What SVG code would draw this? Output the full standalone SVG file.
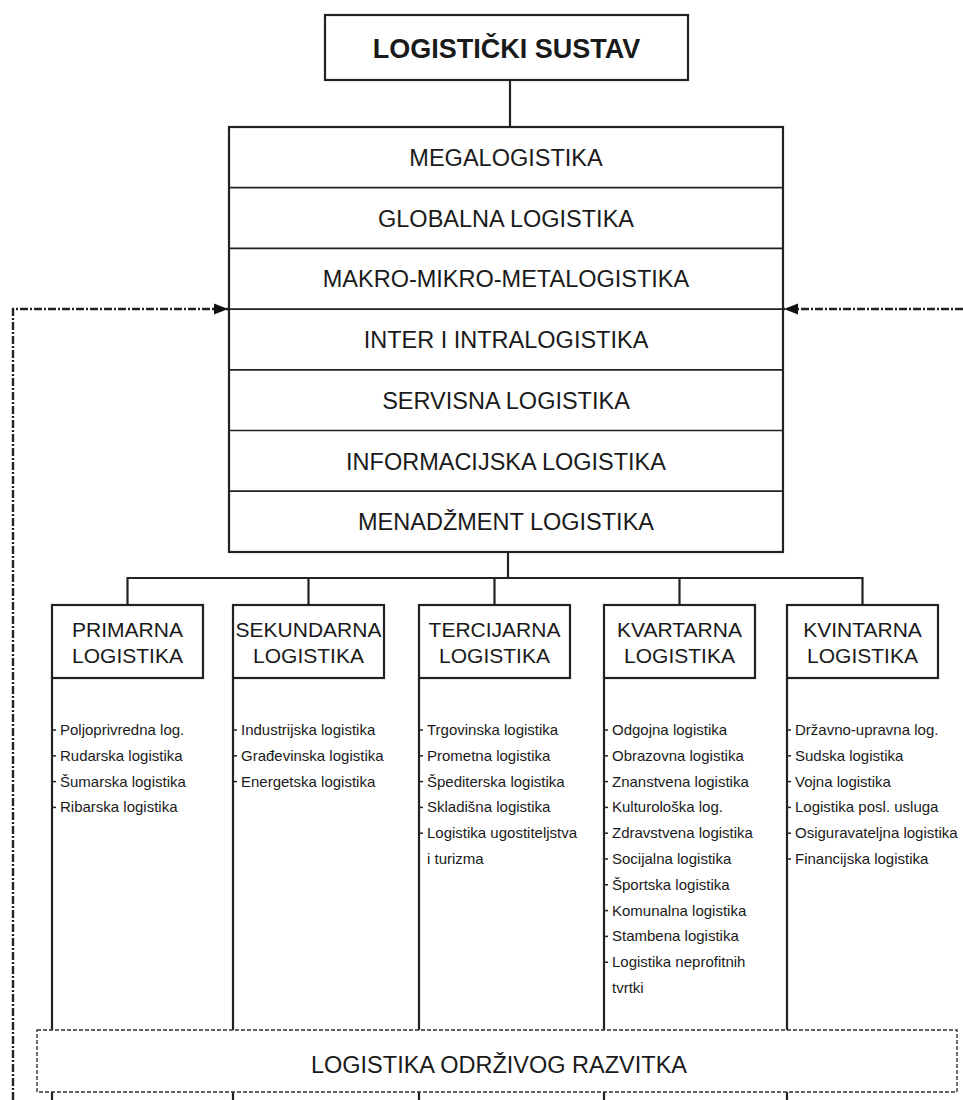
<svg xmlns="http://www.w3.org/2000/svg" width="963" height="1100" viewBox="0 0 963 1100">
<defs>
<marker id="arr" viewBox="0 0 14 12" refX="14" refY="6" markerWidth="14" markerHeight="12" markerUnits="userSpaceOnUse" orient="auto">
<path d="M0,0.5 L14,6 L0,11.5 z" fill="#111"/>
</marker>
<style>
.box{fill:#fff;stroke:#222;stroke-width:2.2}
.sep{stroke:#222;stroke-width:1.7}
.ln{stroke:#222;stroke-width:2.2;fill:none}
.tick{stroke:#222;stroke-width:1.5}
.fb{stroke:#222;stroke-width:2.4;fill:none;stroke-dasharray:8 2 2 2}
.dbox{fill:#fff;stroke:#333;stroke-width:1.4;stroke-dasharray:4 2}
.t{font-family:"Liberation Sans",Arial,sans-serif;fill:#1a1a1a}
.title{font-size:27px;font-weight:bold;text-anchor:middle}
.row{font-size:23.5px;text-anchor:middle}
.cat{font-size:21px;text-anchor:middle}
.it{font-size:15px}
</style>
</defs>

<g id="connectors">
<line class="ln" x1="510" y1="80" x2="510" y2="127"/>
<line class="ln" x1="508" y1="552" x2="508" y2="578"/>
<line class="ln" x1="127.5" y1="578" x2="862.5" y2="578"/>
<line class="ln" x1="127.5" y1="577" x2="127.5" y2="605"/>
<line class="ln" x1="308.5" y1="577" x2="308.5" y2="605"/>
<line class="ln" x1="494.5" y1="577" x2="494.5" y2="605"/>
<line class="ln" x1="679.5" y1="577" x2="679.5" y2="605"/>
<line class="ln" x1="862.5" y1="577" x2="862.5" y2="605"/>
<line class="ln" x1="52" y1="678" x2="52" y2="1100"/>
<line class="ln" x1="233" y1="678" x2="233" y2="1100"/>
<line class="ln" x1="419" y1="678" x2="419" y2="1100"/>
<line class="ln" x1="604" y1="678" x2="604" y2="1100"/>
<line class="ln" x1="787" y1="678" x2="787" y2="1100"/>
<polyline class="fb" points="13,1100 13,309 228,309" marker-end="url(#arr)"/>
<line class="fb" x1="963" y1="309" x2="784" y2="309" marker-end="url(#arr)"/>
</g>

<g id="logisticki-sustav">
<rect class="box" x="325" y="15" width="363" height="65"/>
<text class="t title" x="506.5" y="58">LOGISTIČKI SUSTAV</text>
</g>

<g id="razine">
<rect class="box" x="229" y="127" width="554" height="425"/>
<line class="sep" x1="229" y1="187.7" x2="783" y2="187.7"/>
<line class="sep" x1="229" y1="248.4" x2="783" y2="248.4"/>
<line class="sep" x1="229" y1="309.1" x2="783" y2="309.1"/>
<line class="sep" x1="229" y1="369.8" x2="783" y2="369.8"/>
<line class="sep" x1="229" y1="430.5" x2="783" y2="430.5"/>
<line class="sep" x1="229" y1="491.2" x2="783" y2="491.2"/>
<text class="t row" x="506" y="166">MEGALOGISTIKA</text>
<text class="t row" x="506" y="227">GLOBALNA LOGISTIKA</text>
<text class="t row" x="506" y="287">MAKRO-MIKRO-METALOGISTIKA</text>
<text class="t row" x="506" y="348">INTER I INTRALOGISTIKA</text>
<text class="t row" x="506" y="409">SERVISNA LOGISTIKA</text>
<text class="t row" x="506" y="470">INFORMACIJSKA LOGISTIKA</text>
<text class="t row" x="506" y="530">MENADŽMENT LOGISTIKA</text>
</g>

<g id="primarna">
<rect class="box" x="52" y="605" width="151" height="73"/>
<text class="t cat" x="127.5" y="637">PRIMARNA</text>
<text class="t cat" x="127.5" y="663">LOGISTIKA</text>
<g class="tick">
<line x1="52" y1="730" x2="56" y2="730"/><line x1="52" y1="755.8" x2="56" y2="755.8"/><line x1="52" y1="781.6" x2="56" y2="781.6"/><line x1="52" y1="807.4" x2="56" y2="807.4"/>
</g>
<text class="t it" x="60" y="735">Poljoprivredna log.</text>
<text class="t it" x="60" y="760.8">Rudarska logistika</text>
<text class="t it" x="60" y="786.6">Šumarska logistika</text>
<text class="t it" x="60" y="812.4">Ribarska logistika</text>
</g>

<g id="sekundarna">
<rect class="box" x="233" y="605" width="151" height="73"/>
<text class="t cat" x="308.5" y="637">SEKUNDARNA</text>
<text class="t cat" x="308.5" y="663">LOGISTIKA</text>
<g class="tick">
<line x1="233" y1="730" x2="237" y2="730"/><line x1="233" y1="755.8" x2="237" y2="755.8"/><line x1="233" y1="781.6" x2="237" y2="781.6"/>
</g>
<text class="t it" x="241" y="735">Industrijska logistika</text>
<text class="t it" x="241" y="760.8">Građevinska logistika</text>
<text class="t it" x="241" y="786.6">Energetska logistika</text>
</g>

<g id="tercijarna">
<rect class="box" x="419" y="605" width="151" height="73"/>
<text class="t cat" x="494.5" y="637">TERCIJARNA</text>
<text class="t cat" x="494.5" y="663">LOGISTIKA</text>
<g class="tick">
<line x1="419" y1="730" x2="423" y2="730"/><line x1="419" y1="755.8" x2="423" y2="755.8"/><line x1="419" y1="781.6" x2="423" y2="781.6"/><line x1="419" y1="807.4" x2="423" y2="807.4"/><line x1="419" y1="833.2" x2="423" y2="833.2"/>
</g>
<text class="t it" x="427" y="735">Trgovinska logistika</text>
<text class="t it" x="427" y="760.8">Prometna logistika</text>
<text class="t it" x="427" y="786.6">Špediterska logistika</text>
<text class="t it" x="427" y="812.4">Skladišna logistika</text>
<text class="t it" x="427" y="838.2">Logistika ugostiteljstva</text>
<text class="t it" x="427" y="864">i turizma</text>
</g>

<g id="kvartarna">
<rect class="box" x="604" y="605" width="151" height="73"/>
<text class="t cat" x="679.5" y="637">KVARTARNA</text>
<text class="t cat" x="679.5" y="663">LOGISTIKA</text>
<g class="tick">
<line x1="604" y1="730" x2="608" y2="730"/><line x1="604" y1="755.8" x2="608" y2="755.8"/><line x1="604" y1="781.6" x2="608" y2="781.6"/><line x1="604" y1="807.4" x2="608" y2="807.4"/><line x1="604" y1="833.2" x2="608" y2="833.2"/><line x1="604" y1="859" x2="608" y2="859"/><line x1="604" y1="884.8" x2="608" y2="884.8"/><line x1="604" y1="910.6" x2="608" y2="910.6"/><line x1="604" y1="936.4" x2="608" y2="936.4"/><line x1="604" y1="962.2" x2="608" y2="962.2"/>
</g>
<text class="t it" x="612" y="735">Odgojna logistika</text>
<text class="t it" x="612" y="760.8">Obrazovna logistika</text>
<text class="t it" x="612" y="786.6">Znanstvena logistika</text>
<text class="t it" x="612" y="812.4">Kulturološka log.</text>
<text class="t it" x="612" y="838.2">Zdravstvena logistika</text>
<text class="t it" x="612" y="864">Socijalna logistika</text>
<text class="t it" x="612" y="889.8">Športska logistika</text>
<text class="t it" x="612" y="915.6">Komunalna logistika</text>
<text class="t it" x="612" y="941.4">Stambena logistika</text>
<text class="t it" x="612" y="967.2">Logistika neprofitnih</text>
<text class="t it" x="612" y="993">tvrtki</text>
</g>

<g id="kvintarna">
<rect class="box" x="787" y="605" width="151" height="73"/>
<text class="t cat" x="862.5" y="637">KVINTARNA</text>
<text class="t cat" x="862.5" y="663">LOGISTIKA</text>
<g class="tick">
<line x1="787" y1="730" x2="791" y2="730"/><line x1="787" y1="755.8" x2="791" y2="755.8"/><line x1="787" y1="781.6" x2="791" y2="781.6"/><line x1="787" y1="807.4" x2="791" y2="807.4"/><line x1="787" y1="833.2" x2="791" y2="833.2"/><line x1="787" y1="859" x2="791" y2="859"/>
</g>
<text class="t it" x="795" y="735">Državno-upravna log.</text>
<text class="t it" x="795" y="760.8">Sudska logistika</text>
<text class="t it" x="795" y="786.6">Vojna logistika</text>
<text class="t it" x="795" y="812.4">Logistika posl. usluga</text>
<text class="t it" x="795" y="838.2">Osiguravateljna logistika</text>
<text class="t it" x="795" y="864">Financijska logistika</text>
</g>

<g id="odrzivi-razvitak">
<rect class="dbox" x="37" y="1030" width="920" height="62"/>
<text class="t row" x="499" y="1073">LOGISTIKA ODRŽIVOG RAZVITKA</text>
</g>
</svg>
